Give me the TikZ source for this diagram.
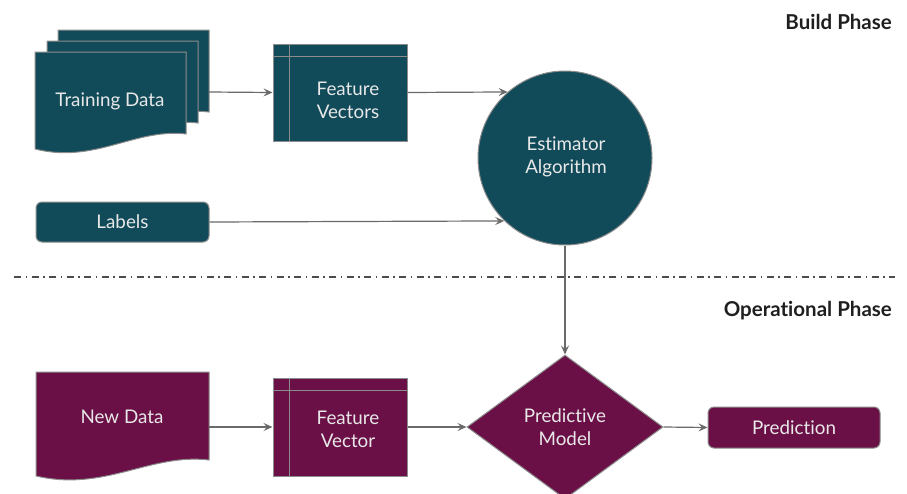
\documentclass[tikz,border=0pt]{standalone}
\usepackage{fontspec}
\setmainfont{Lato}[Ligatures={NoCommon,NoRequired,NoContextual}]
\usetikzlibrary{shapes.geometric,arrows.meta}
\definecolor{tealc}{HTML}{114B5A}
\definecolor{plumc}{HTML}{6B1047}
\definecolor{edgec}{HTML}{8C8C8C}
\definecolor{txtc}{HTML}{E8E8E8}
\definecolor{connc}{HTML}{6A6A6A}
\tikzset{
  lbl/.style={text=txtc, font=\fontsize{18.8}{23}\selectfont, align=center, inner sep=0pt},
  box/.style={draw=edgec, line width=1pt, inner sep=0pt},
  sheet/.style={draw=edgec, line width=1pt},
  arr/.style={draw=connc, line width=1.2pt, -{Stealth[length=9pt,width=8pt,inset=3.5pt]}},
  phase/.style={font=\bfseries\fontsize{20.5}{24}\selectfont, text=black!88, inner sep=0pt, anchor=east},
  sepline/.style={draw=black!70, line width=2pt, dash pattern=on 7pt off 4.5pt on 1.5pt off 4.5pt},
  inner/.style={draw=edgec, line width=1.2pt}
}
\begin{document}
\begin{tikzpicture}[x=1pt,y=-1pt]
\useasboundingbox (0,0) rectangle (907,493);
% ---------- Build phase ----------
% stacked training data sheets
\foreach \dx/\dy in {23/-22,12/-11,0/0}{
  \fill[tealc] [sheet] (35+\dx,52+\dy) -- (186+\dx,52+\dy) -- (186+\dx,134+\dy)
     .. controls (135+\dx,128+\dy) and (95+\dx,164+\dy) .. (35+\dx,149+\dy) -- cycle;
}
\node[lbl] (train) at (110,101) {Training Data};
\coordinate (trainR) at (209,92);

\node[box, fill=tealc, minimum width=134pt, minimum height=97pt] (fv) at (340,92.5) {};
\draw[inner] ([xshift=17pt]fv.north west) -- ([xshift=17pt]fv.south west);
\draw[inner] ([yshift=-13pt]fv.north west) -- ([yshift=-13pt]fv.north east);
\node[lbl] (fvt) at (348,100) {Feature\\Vectors};

\node[box, circle, fill=tealc, minimum size=174pt] (est) at (565,158) {};
\node[lbl] (estt) at (566,157) {Estimator\\Algorithm};

\node[box, fill=tealc, rounded corners=6pt, minimum width=173pt, minimum height=40pt] (labels) at (122.5,222) {};
\node[lbl] (labt) at (122.5,222) {Labels};

\draw[arr] (trainR) -- (fv.west);
\draw[arr] (fv.east) -- (est.131);
\draw[arr] (labels.east) -- (est.226);

\node[phase] (build) at (892,22) {Build Phase};

% separator
\draw[sepline] (14,277) -- (895,277);

\node[phase] (oper) at (892,311) {Operational Phase};

% ---------- Operational phase ----------
\fill[plumc] [sheet] (36,372) -- (209,372) -- (209,460)
   .. controls (150,453) and (105,492) .. (36,476) -- cycle;
\node[lbl] (nd) at (122,417) {New Data};
\coordinate (ndR) at (209,427);

\node[box, fill=plumc, minimum width=134pt, minimum height=98pt] (fv2) at (340,427) {};
\draw[inner] ([xshift=17pt]fv2.north west) -- ([xshift=17pt]fv2.south west);
\draw[inner] ([yshift=-13pt]fv2.north west) -- ([yshift=-13pt]fv2.north east);
\node[lbl] (fv2t) at (348,429) {Feature\\Vector};

\node[box, diamond, fill=plumc, minimum width=196pt, minimum height=144pt, aspect=1.36] (pm) at (565,427) {};
\node[lbl] (pmt) at (565,427) {Predictive\\Model};

\node[box, fill=plumc, rounded corners=6pt, minimum width=172pt, minimum height=41pt] (pred) at (794,427.5) {};
\node[lbl] (predt) at (794,427.5) {Prediction};

\draw[arr] (est.south) -- (pm.north);
\draw[arr] (ndR) -- (fv2.west);
\draw[arr] (fv2.east) -- (pm.west);
\draw[arr] (pm.east) -- (pred.west);
\end{tikzpicture}
\end{document}
